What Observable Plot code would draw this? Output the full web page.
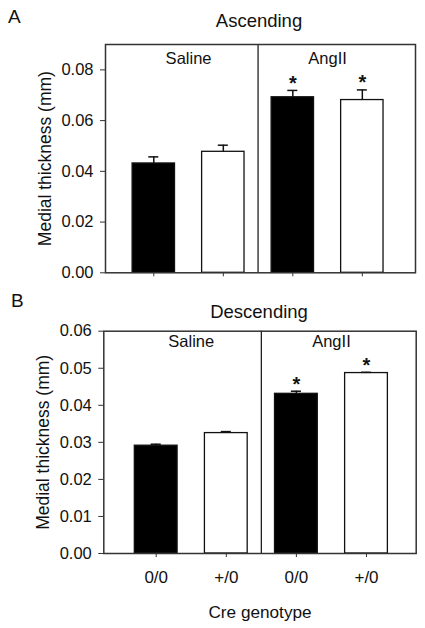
<!DOCTYPE html>
<html><head><meta charset="utf-8">
<script src="https://cdn.jsdelivr.net/npm/d3@7"></script>
<script src="https://cdn.jsdelivr.net/npm/@observablehq/plot@0.6"></script>
<style>
body{margin:0;background:#fff;}
#root{position:relative;width:425px;height:628px;font-family:"Liberation Sans",Arial,sans-serif;color:#111;overflow:hidden;}
.lbl{position:absolute;line-height:1;white-space:nowrap;}
.panel{position:absolute;left:0;}
</style></head><body><div id="root"></div>
<script>
// ---- data ----
const groups = ["Saline", "Saline", "AngII", "AngII"];
const genotypes = ["0/0", "+/0", "0/0", "+/0"];
const ascMean = [0.0431, 0.0477, 0.0692, 0.0681];
const ascSem  = [0.0026, 0.0026, 0.0027, 0.0040];
const descMean = [0.0291, 0.0325, 0.0431, 0.0487];
const descSem  = [0.0004, 0.0004, 0.0007, 0.0002];
const significant = [false, false, true, true];
const ascTicks = [0, 0.02, 0.04, 0.06, 0.08];
const descTicks = [0, 0.01, 0.02, 0.03, 0.04, 0.05, 0.06];
const yLabel = "Medial thickness (mm)";
const xLabel = "Cre genotype";

const FONT = '"Liberation Sans", Arial, sans-serif';

function panel({mean, sem, yMax, yTicks, xDomain, height, mt, mb, ml, mr, showX, catDy}) {
  const data = genotypes.map((g, i) => ({x: i + 1, group: groups[i], genotype: g, mean: mean[i], sem: sem[i], sig: significant[i]}));
  const groupNames = Array.from(new Set(groups));
  const groupX = groupNames.map(n => d3.mean(data.filter(d => d.group === n), d => d.x));
  const marks = [
    Plot.rectY(data, {x1: d => d.x - 0.305, x2: d => d.x + 0.305, y1: 0, y2: "mean",
      fill: d => d.genotype === "0/0" ? "#000" : "#fff", stroke: "#111", strokeWidth: 1.3}),
    Plot.ruleX(data, {x: "x", y1: "mean", y2: d => d.mean + d.sem, stroke: "#111", strokeWidth: 1.5}),
    Plot.ruleY(data, {y: d => d.mean + d.sem, x1: d => d.x - 0.072, x2: d => d.x + 0.072, stroke: "#111", strokeWidth: 1.5}),
    Plot.text(data.filter(d => d.sig), {x: "x", y: d => d.mean + d.sem, text: () => "*", dy: -7, fontSize: 20, fontWeight: "bold", fill: "#111"}),
    Plot.ruleX([2.5], {stroke: "#222", strokeWidth: 1.3}),
    Plot.text(groupNames, {x: groupX, text: d => d, frameAnchor: "top", lineAnchor: "top", dy: catDy, fontSize: 16.5, fill: "#111"}),
    Plot.frame({stroke: "#333", strokeWidth: 1.5}),
    Plot.axisY({ticks: yTicks, tickFormat: d3.format(".2f"), tickSize: 5, tickPadding: 7, label: null, fontSize: 16.5, stroke: "#333"}),
    Plot.axisX({ticks: [1, 2, 3, 4], tickSize: 4, tickPadding: 13, label: null, fontSize: 17, stroke: "#333",
      tickFormat: showX ? (d => genotypes[d - 1]) : (() => "")}),
    Plot.text([yLabel], {frameAnchor: "left", textAnchor: "middle", lineAnchor: "middle", rotate: -90, dx: -60, fontSize: 17.5, fill: "#111"})
  ];
  if (showX) marks.push(Plot.text([xLabel], {frameAnchor: "bottom", lineAnchor: "top", dy: 52, fontSize: 17.2, fill: "#111"}));
  return Plot.plot({
    width: 425, height,
    marginTop: mt, marginBottom: mb, marginLeft: ml, marginRight: mr,
    style: {fontFamily: FONT, fontSize: "16.5px", color: "#111", background: "transparent"},
    x: {type: "linear", domain: xDomain},
    y: {domain: [0, yMax]},
    color: {type: "identity"},
    marks
  });
}

const root = document.getElementById("root");
function place(el, top) {
  const d = document.createElement("div");
  d.className = "panel"; d.style.top = top + "px";
  d.appendChild(el); root.appendChild(d);
}
place(panel({mean: ascMean, sem: ascSem, yMax: 0.09, yTicks: ascTicks, xDomain: [0.305, 4.765],
  height: 262, mt: 14, mb: 19.7, ml: 105, mr: 10, showX: false, catDy: 7.5}), 30);
place(panel({mean: descMean, sem: descSem, yMax: 0.06, yTicks: descTicks, xDomain: [0.2525, 4.709],
  height: 306, mt: 8.7, mb: 75, ml: 103.3, mr: 9.3, showX: true, catDy: 4.3}), 322);

function label(text, left, top, size, center) {
  const s = document.createElement("div");
  s.className = "lbl"; s.textContent = text;
  s.style.left = left + "px"; s.style.top = top + "px"; s.style.fontSize = size + "px";
  if (center) s.style.transform = "translateX(-50%)";
  root.appendChild(s);
}
label("A", 8, 7, 19, false);
label("Ascending", 259, 12, 18.5, true);
label("B", 11, 291, 19, false);
label("Descending", 259, 303, 18.5, true);
</script></body></html>
